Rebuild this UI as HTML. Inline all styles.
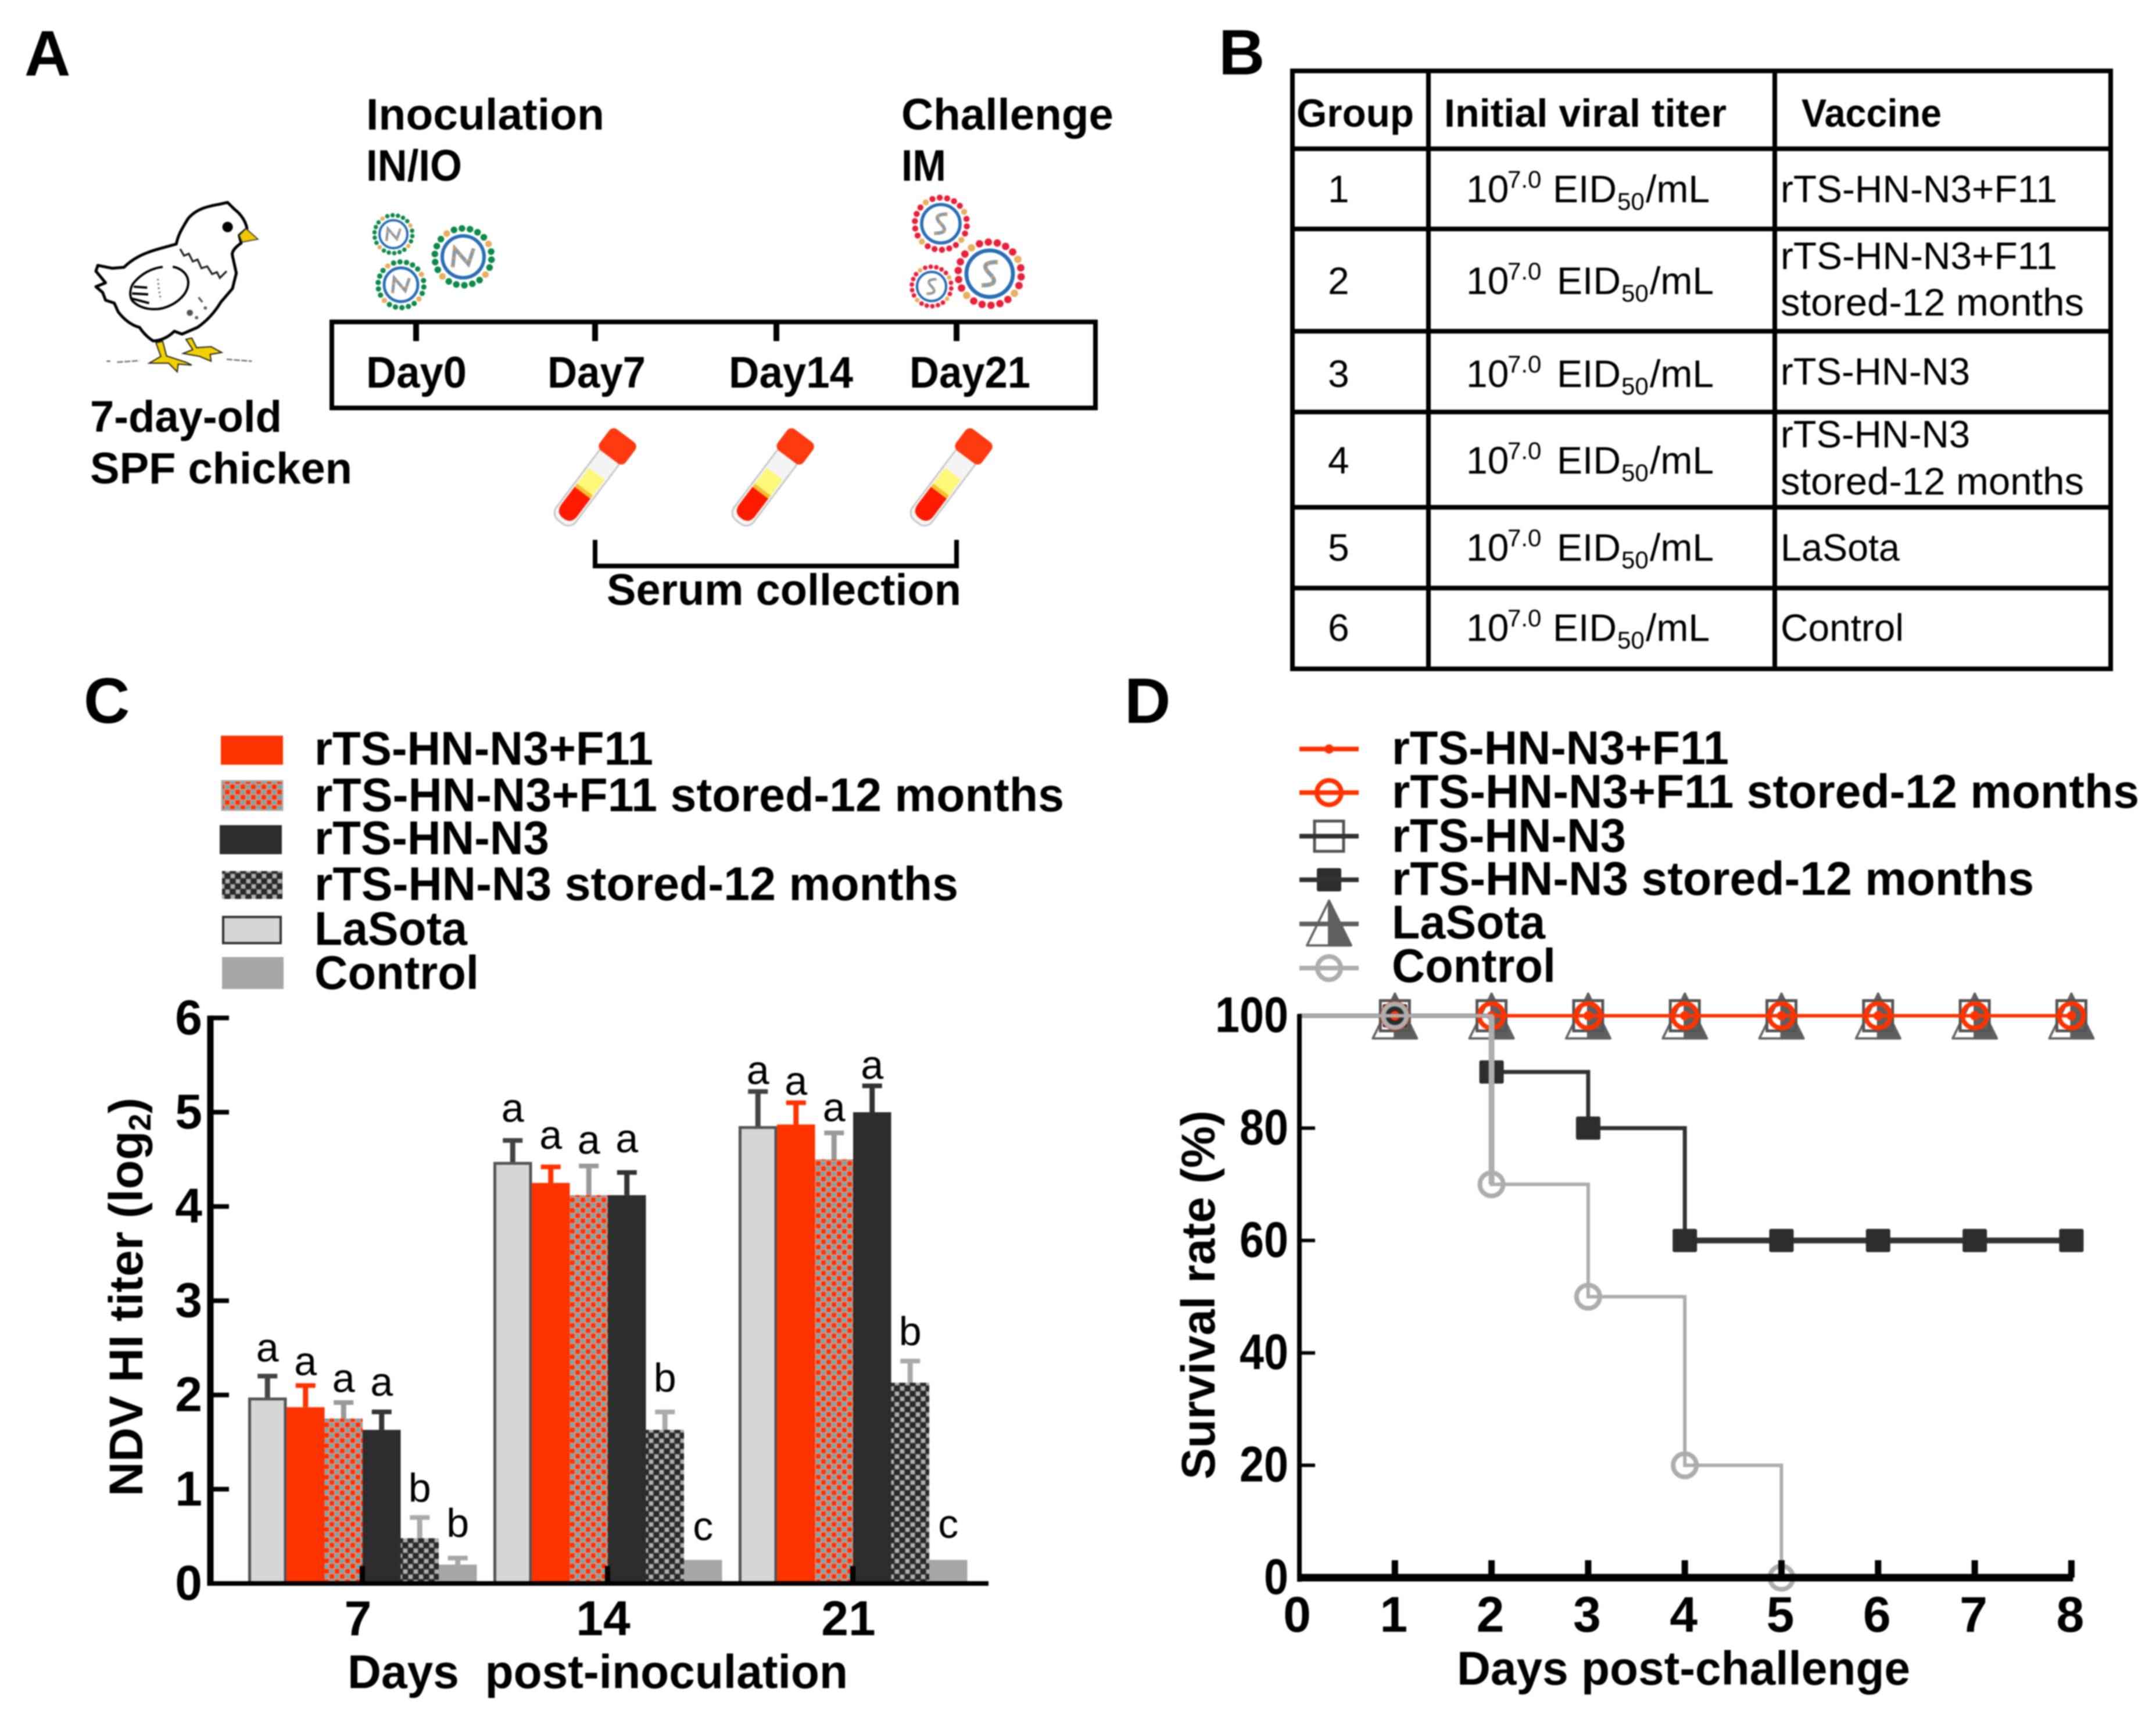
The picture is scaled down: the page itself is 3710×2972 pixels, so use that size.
<!DOCTYPE html>
<html lang="en">
<head>
<meta charset="utf-8">
<title>Vaccine study figure</title>
<style>
html,body{margin:0;padding:0;background:#fff;}
svg{display:block;filter:blur(1px);}
text{font-family:"Liberation Sans",Arial,sans-serif;fill:#000;}
.b{font-weight:bold;}
.lab{font-size:110px;font-weight:bold;}
.a{font-size:76px;font-weight:bold;}
.h{font-size:68px;font-weight:bold;}
.t{font-size:66px;}
.s{font-size:42px;}
.lg{font-size:82px;font-weight:bold;}
</style>
</head>
<body>
<svg id="fig" xmlns="http://www.w3.org/2000/svg" width="3710" height="2972" viewBox="0 0 3710 2972">
<defs>
<pattern id="hatchRed" patternUnits="userSpaceOnUse" width="18" height="18">
<rect width="18" height="18" fill="#f0a090"/>
<rect x="0" y="0" width="8" height="8" fill="#ff3300"/><rect x="9" y="9" width="8" height="8" fill="#ff3300"/>
<rect x="9" y="0" width="8" height="8" fill="#7fa3a8"/><rect x="0" y="9" width="8" height="8" fill="#7fa3a8"/>
</pattern>
<pattern id="hatchDark" patternUnits="userSpaceOnUse" width="18" height="18">
<rect width="18" height="18" fill="#555"/>
<rect x="0" y="0" width="9" height="9" fill="#2a2a2a"/><rect x="9" y="9" width="9" height="9" fill="#2a2a2a"/>
<rect x="10" y="1" width="7" height="7" fill="#b0b0b0"/><rect x="1" y="10" width="7" height="7" fill="#b0b0b0"/>
</pattern>
</defs>
<rect width="3710" height="2972" fill="#fff"/>

<!-- PANEL A -->
<g id="panelA">
<text class="lab" x="42" y="130">A</text>
<text class="a" x="630" y="223" textLength="410" lengthAdjust="spacingAndGlyphs">Inoculation</text>
<text class="a" x="630" y="311" textLength="165" lengthAdjust="spacingAndGlyphs">IN/IO</text>
<text class="a" x="1551" y="223" textLength="365" lengthAdjust="spacingAndGlyphs">Challenge</text>
<text class="a" x="1551" y="311" textLength="77" lengthAdjust="spacingAndGlyphs">IM</text>
<rect x="571" y="554" width="1314" height="148" fill="none" stroke="#000" stroke-width="8"/>
<g stroke="#000" stroke-width="10">
<line x1="716" y1="554" x2="716" y2="587"/><line x1="1024" y1="554" x2="1024" y2="587"/><line x1="1336" y1="554" x2="1336" y2="587"/><line x1="1646" y1="554" x2="1646" y2="587"/>
</g>
<text class="a" x="630" y="667" textLength="173" lengthAdjust="spacingAndGlyphs">Day0</text>
<text class="a" x="942" y="667" textLength="169" lengthAdjust="spacingAndGlyphs">Day7</text>
<text class="a" x="1254" y="667" textLength="214" lengthAdjust="spacingAndGlyphs">Day14</text>
<text class="a" x="1565" y="667" textLength="208" lengthAdjust="spacingAndGlyphs">Day21</text>
<text class="a" x="155" y="743" textLength="330" lengthAdjust="spacingAndGlyphs">7-day-old</text>
<text class="a" x="155" y="832" textLength="451" lengthAdjust="spacingAndGlyphs">SPF chicken</text>
<text class="a" x="1044" y="1041" textLength="610" lengthAdjust="spacingAndGlyphs">Serum collection</text>
<path d="M1024 929V974H1646V929" fill="none" stroke="#000" stroke-width="8"/>

<g transform="translate(140,330) scale(.3333)">
<path d="M490 270C500 220 520 190 550 140C590 90 650 75 710 65L755 55L790 90C830 120 850 160 855 190L815 225L825 265C790 290 775 310 780 330L800 420L780 500L720 570C690 620 650 665 600 700L520 735L480 720C450 750 410 770 370 770C340 750 320 730 300 700C260 690 220 660 190 620L170 575L125 560L110 520L75 490L125 470L75 410L85 380L160 395L220 390C260 350 310 320 400 295Z" fill="#fff" stroke="#000" stroke-width="15" stroke-linejoin="round"/>
<path d="M420 388C360 395 310 425 275 465C250 490 245 540 265 565C300 600 350 610 400 605C470 595 550 540 552 470C552 425 515 395 472 387" fill="none" stroke="#000" stroke-width="12"/>
<path d="M270 490L340 495M262 525L345 530M255 550L350 575" fill="none" stroke="#000" stroke-width="12"/>
<path d="M510 295L530 330L555 320L575 360L600 350L620 395L650 385L675 425L700 415L715 445L750 410" fill="none" stroke="#222" stroke-width="10"/>
<path d="M395 450L400 500L410 560" fill="none" stroke="#666" stroke-width="9" stroke-dasharray="8 14"/>
<circle cx="755" cy="182" r="27" fill="#000"/>
<path d="M815 225L850 190L912 245L830 260Z" fill="#f0c800" stroke="#333" stroke-width="5"/>
<circle cx="560" cy="625" r="16" fill="#555"/><circle cx="595" cy="650" r="9" fill="#666"/><circle cx="640" cy="600" r="9" fill="#666"/><path d="M605 545L625 570" stroke="#555" stroke-width="10"/>
<path d="M385 780L420 772L440 848L540 880L570 895L500 890L495 930L450 885L350 885L410 850Z" fill="#f0d000" stroke="#222" stroke-width="6"/>
<path d="M540 762L570 755L595 805L670 800L725 830L665 840L670 875L610 850L525 835L575 815Z" fill="#f0d000" stroke="#222" stroke-width="6"/>
<path d="M130 875H150M185 880L300 872M750 865L880 875" stroke="#777" stroke-width="8" fill="none" stroke-dasharray="30 8"/>
</g>

<g id="viruses"></g>
<g id="tubes"></g>
</g>

<!-- PANEL B -->
<g id="panelB">
<text class="lab" x="2097" y="128">B</text>
<g stroke="#000" stroke-width="8" fill="none">
<rect x="2224" y="122" width="1408" height="1029"/>
<line x1="2458" y1="122" x2="2458" y2="1151"/><line x1="3054" y1="122" x2="3054" y2="1151"/>
<line x1="2224" y1="256" x2="3632" y2="256"/><line x1="2224" y1="394" x2="3632" y2="394"/><line x1="2224" y1="570" x2="3632" y2="570"/><line x1="2224" y1="709" x2="3632" y2="709"/><line x1="2224" y1="873" x2="3632" y2="873"/><line x1="2224" y1="1012" x2="3632" y2="1012"/>
</g>
<text class="h" x="2231" y="218" textLength="202" lengthAdjust="spacingAndGlyphs">Group</text>
<text class="h" x="2485" y="218" textLength="486" lengthAdjust="spacingAndGlyphs">Initial  viral  titer</text>
<text class="h" x="3100" y="218" textLength="241" lengthAdjust="spacingAndGlyphs">Vaccine</text>

<g>
<text class="t" x="2285" y="348">1</text>
<g transform="translate(-6,0)"><text class="t" x="2529" y="348">10</text><text class="s" x="2600" y="323">7.0</text><text class="t" x="2678" y="348">EID</text><text class="s" x="2789" y="361">50</text><text class="t" x="2838" y="348">/mL</text></g>
<text class="t" x="3064" y="348" textLength="476" lengthAdjust="spacingAndGlyphs">rTS-HN-N3+F11</text>
</g>
<g>
<text class="t" x="2285" y="506">2</text>
<g transform="translate(-6,0)"><text class="t" x="2529" y="506">10</text><text class="s" x="2600" y="481">7.0</text><text class="t" x="2685" y="506">EID</text><text class="s" x="2796" y="519">50</text><text class="t" x="2845" y="506">/mL</text></g>
<text class="t" x="3064" y="463" textLength="476" lengthAdjust="spacingAndGlyphs">rTS-HN-N3+F11</text>
<text class="t" x="3064" y="543" textLength="522" lengthAdjust="spacingAndGlyphs">stored-12  months</text>
</g>
<g>
<text class="t" x="2285" y="666">3</text>
<g transform="translate(-6,0)"><text class="t" x="2529" y="666">10</text><text class="s" x="2600" y="641">7.0</text><text class="t" x="2685" y="666">EID</text><text class="s" x="2796" y="679">50</text><text class="t" x="2845" y="666">/mL</text></g>
<text class="t" x="3064" y="662" textLength="326" lengthAdjust="spacingAndGlyphs">rTS-HN-N3</text>
</g>
<g>
<text class="t" x="2285" y="815">4</text>
<g transform="translate(-6,0)"><text class="t" x="2529" y="815">10</text><text class="s" x="2600" y="790">7.0</text><text class="t" x="2685" y="815">EID</text><text class="s" x="2796" y="828">50</text><text class="t" x="2845" y="815">/mL</text></g>
<text class="t" x="3064" y="770" textLength="326" lengthAdjust="spacingAndGlyphs">rTS-HN-N3</text>
<text class="t" x="3064" y="851" textLength="522" lengthAdjust="spacingAndGlyphs">stored-12  months</text>
</g>
<g>
<text class="t" x="2285" y="965">5</text>
<g transform="translate(-6,0)"><text class="t" x="2529" y="965">10</text><text class="s" x="2600" y="940">7.0</text><text class="t" x="2685" y="965">EID</text><text class="s" x="2796" y="978">50</text><text class="t" x="2845" y="965">/mL</text></g>
<text class="t" x="3064" y="965" textLength="205" lengthAdjust="spacingAndGlyphs">LaSota</text>
</g>
<g>
<text class="t" x="2285" y="1103">6</text>
<g transform="translate(-6,0)"><text class="t" x="2529" y="1103">10</text><text class="s" x="2600" y="1078">7.0</text><text class="t" x="2678" y="1103">EID</text><text class="s" x="2789" y="1116">50</text><text class="t" x="2838" y="1103">/mL</text></g>
<text class="t" x="3064" y="1103" textLength="212" lengthAdjust="spacingAndGlyphs">Control</text>
</g>
</g>

<!-- PANEL C -->
<g id="panelC">
<text class="lab" x="144" y="1244">C</text>
<g>
<rect x="380" y="1266" width="107" height="50" fill="#ff3300"/>
<text class="lg" x="541" y="1316" textLength="583" lengthAdjust="spacingAndGlyphs">rTS-HN-N3+F11</text>
<rect x="382" y="1344" width="104" height="50" fill="url(#hatchRed)" stroke="#aaa" stroke-width="3"/>
<text class="lg" x="541" y="1396" textLength="1290" lengthAdjust="spacingAndGlyphs">rTS-HN-N3+F11 stored-12 months</text>
<rect x="378" y="1420" width="107" height="50" fill="#2d2d2d"/>
<text class="lg" x="541" y="1470" textLength="404" lengthAdjust="spacingAndGlyphs">rTS-HN-N3</text>
<rect x="382" y="1499" width="104" height="48" fill="url(#hatchDark)"/>
<text class="lg" x="541" y="1549" textLength="1108" lengthAdjust="spacingAndGlyphs">rTS-HN-N3 stored-12 months</text>
<rect x="384" y="1578" width="99" height="45" fill="#d6d6d6" stroke="#333" stroke-width="4"/>
<text class="lg" x="541" y="1626" textLength="263" lengthAdjust="spacingAndGlyphs">LaSota</text>
<rect x="382" y="1647" width="106" height="55" fill="#a6a6a9"/>
<text class="lg" x="541" y="1702" textLength="283" lengthAdjust="spacingAndGlyphs">Control</text>
</g>
<g id="barPlot"></g>
<text class="lg" font-size="82" transform="translate(245,2575) rotate(-90)">NDV HI titer (log<tspan dy="14" font-size="54">2</tspan><tspan dy="-14">)</tspan></text>
<text class="lg" x="598" y="2905" textLength="861" lengthAdjust="spacingAndGlyphs" xml:space="preserve">Days  post-inoculation</text>
</g>

<!-- PANEL D -->
<g id="panelD">
<text class="lab" x="1935" y="1244">D</text>
<g id="survivalLegend">
<text class="lg" x="2395" y="1315" textLength="580" lengthAdjust="spacingAndGlyphs">rTS-HN-N3+F11</text>
<text class="lg" x="2395" y="1390" textLength="1286" lengthAdjust="spacingAndGlyphs">rTS-HN-N3+F11 stored-12 months</text>
<text class="lg" x="2395" y="1466" textLength="403" lengthAdjust="spacingAndGlyphs">rTS-HN-N3</text>
<text class="lg" x="2395" y="1540" textLength="1105" lengthAdjust="spacingAndGlyphs">rTS-HN-N3 stored-12 months</text>
<text class="lg" x="2395" y="1615" textLength="264" lengthAdjust="spacingAndGlyphs">LaSota</text>
<text class="lg" x="2395" y="1690" textLength="282" lengthAdjust="spacingAndGlyphs">Control</text>
</g>
<g id="survivalPlot"></g>
<text class="lg" transform="translate(2090,2546) rotate(-90)" textLength="635" lengthAdjust="spacingAndGlyphs">Survival rate (%)</text>
<text class="lg" x="2507" y="2899" textLength="780" lengthAdjust="spacingAndGlyphs">Days post-challenge</text>
</g>
</svg>

<script>
// ---- Panel C data ----
const titerCategories = ['7', '14', '21'];
const titerTicks = [0, 1, 2, 3, 4, 5, 6];
const titerSeriesKeys = ['lasota', 'f11', 'f11-stored', 'n3', 'n3-stored', 'control'];
const lasotaTiter = [1.97, 4.47, 4.85];
const f11Titer = [1.87, 4.25, 4.87];
const f11StoredTiter = [1.75, 4.12, 4.5];
const n3Titer = [1.63, 4.12, 5.0];
const n3StoredTiter = [0.48, 1.63, 2.13];
const controlTiter = [0.2, 0.25, 0.25];
const lasotaError = [0.23, 0.23, 0.37];
const f11Error = [0.23, 0.17, 0.23];
const f11StoredError = [0.17, 0.31, 0.28];
const n3Error = [0.19, 0.24, 0.28];
const n3StoredError = [0.22, 0.19, 0.23];
const controlError = [0.07, 0, 0];
const lasotaLetters = ['a', 'a', 'a'];
const f11Letters = ['a', 'a', 'a'];
const f11StoredLetters = ['a', 'a', 'a'];
const n3Letters = ['a', 'a', 'a'];
const n3StoredLetters = ['b', 'b', 'b'];
const controlLetters = ['b', 'c', 'c'];

// ---- Panel D data ----
const survivalXTicks = [0, 1, 2, 3, 4, 5, 6, 7, 8];
const survivalYTicks = [0, 20, 40, 60, 80, 100];
const lasotaSurvival = [100, 100, 100, 100, 100, 100, 100, 100, 100];
const n3Survival = [100, 100, 100, 100, 100, 100, 100, 100, 100];
const n3StoredSurvival = [100, 100, 90, 80, 60, 60, 60, 60, 60];
const f11Survival = [100, 100, 100, 100, 100, 100, 100, 100, 100];
const f11StoredSurvival = [100, 100, 100, 100, 100, 100, 100, 100, 100];
const controlSurvival = [100, 100, 70, 50, 20, 0];

const NS = 'http://www.w3.org/2000/svg';
function mk(tag, attrs, parent, text) {
  const e = document.createElementNS(NS, tag);
  for (const k in attrs) e.setAttribute(k, attrs[k]);
  if (text !== undefined) e.textContent = text;
  parent.appendChild(e);
  return e;
}

// ---- Panel C ----
(function () {
  const plot = document.getElementById('barPlot');
  const xGroup = i => 624 + 422 * i;
  const yVal = v => 2725 - 162.2 * v;
  const barW = 65.5;
  const values = [lasotaTiter, f11Titer, f11StoredTiter, n3Titer, n3StoredTiter, controlTiter];
  const errors = [lasotaError, f11Error, f11StoredError, n3Error, n3StoredError, controlError];
  const letters = [lasotaLetters, f11Letters, f11StoredLetters, n3Letters, n3StoredLetters, controlLetters];
  const letterGaps = [[25, 18, 18, 28, 27, 36], [32, 31, 21, 35, 35, 34], [13, 14, 20, 12, 27, 38]];
  const fills = ['#d6d6d6', '#ff3300', 'url(#hatchRed)', '#2d2d2d', 'url(#hatchDark)', '#a6a6a9'];
  const errColors = ['#444', '#ff3300', '#999', '#333', '#aaa', '#a6a6a9'];

  titerCategories.forEach((cat, i) => {
    titerSeriesKeys.forEach((key, j) => {
      const v = values[j][i];
      const x = xGroup(i) + (j - 3) * barW;
      const top = yVal(v);
      const errTop = yVal(v + errors[j][i]);
      const cx = x + barW / 2;
      if (errors[j][i] > 0) {
        const stem = mk('line', { x1: cx, x2: cx, y1: errTop, y2: top, stroke: errColors[j], 'stroke-width': 9 }, plot);
        
        
        const cap = mk('line', { x1: cx - 17, x2: cx + 17, y1: errTop, y2: errTop, stroke: errColors[j], 'stroke-width': 8 }, plot);
        
        
      }
      const inset = j === 0 ? 2 : 0;
      const bar = mk('rect', {
        x: x + inset, y: top + inset, width: barW - inset * 2, height: Math.max(0, 2725 - top - inset),
        fill: fills[j], stroke: j === 0 ? '#555' : 'none', 'stroke-width': j === 0 ? 5 : 0
      }, plot);
      
      
      const letter = mk('text', { x: cx, y: errTop - letterGaps[i][j], 'font-size': 70, 'text-anchor': 'middle' }, plot, letters[j][i]);
      
      
    });
    const tick = mk('rect', { x: xGroup(i) - 5, y: 2695, width: 9, height: 30, fill: '#000' }, plot);
    
    
    const tickLabel = mk('text', { x: xGroup(i) - 8, y: 2814, 'font-size': 84, 'font-weight': 'bold', 'text-anchor': 'middle' }, plot, cat);
    
    
  });

  const yAxis = mk('line', { x1: 362, x2: 362, y1: yVal(6) - 4, y2: 2729, stroke: '#000', 'stroke-width': 11 }, plot);
  
  
  const xAxis = mk('line', { x1: 357, x2: 1701, y1: 2725, y2: 2725, stroke: '#000', 'stroke-width': 8 }, plot);
  
  
  titerTicks.forEach(t => {
    const tick = mk('line', { x1: 362, x2: 394, y1: yVal(t), y2: yVal(t), stroke: '#000', 'stroke-width': 8 }, plot);
    
    
    const label = mk('text', { x: 348, y: yVal(t) + 28, 'font-size': 84, 'font-weight': 'bold', 'text-anchor': 'end' }, plot, String(t));
    
    
  });
})();

// ---- Panel D ----
(function () {
  const plot = document.getElementById('survivalPlot');
  const legend = document.getElementById('survivalLegend');
  const xDay = d => 2234 + 166.3 * d;
  const yPct = v => 2715 - 9.67 * v;

  function marker(kind, parent, x, y) {
    if (kind === 'triangle') {
      mk('path', { d: `M${x} ${y - 38}L${x - 38} ${y + 39}H${x}Z`, fill: '#fff', stroke: '#666', 'stroke-width': 4, 'stroke-linejoin': 'round' }, parent);
      mk('path', { d: `M${x} ${y - 38}L${x + 38} ${y + 39}H${x}Z`, fill: '#5f5f5f', stroke: '#5f5f5f', 'stroke-width': 4, 'stroke-linejoin': 'round' }, parent);
    } else if (kind === 'open-square') {
      mk('rect', { x: x - 25, y: y - 26, width: 50, height: 52, fill: 'none', stroke: '#555', 'stroke-width': 5 }, parent);
    } else if (kind === 'filled-square') {
      mk('rect', { x: x - 21, y: y - 20, width: 42, height: 40, rx: 3, fill: '#2d2d2d' }, parent);
    } else if (kind === 'dot') {
      mk('circle', { cx: x, cy: y, r: 8, fill: '#ff3300' }, parent);
    } else if (kind === 'red-ring') {
      mk('circle', { cx: x, cy: y, r: 21, fill: 'none', stroke: '#ff3300', 'stroke-width': 8 }, parent);
    } else if (kind === 'grey-ring') {
      mk('circle', { cx: x, cy: y, r: 20, fill: 'none', stroke: '#adadad', 'stroke-width': 8 }, parent);
    }
  }

  const seriesKeys = ['lasota', 'n3', 'n3-stored', 'f11', 'f11-stored', 'control'];
  const seriesValues = [lasotaSurvival, n3Survival, n3StoredSurvival, f11Survival, f11StoredSurvival, controlSurvival];
  const seriesColors = ['#5f5f5f', '#333', '#333', '#ff3300', '#ff3300', '#adadad'];
  const seriesMarkers = ['triangle', 'open-square', 'filled-square', 'dot', 'red-ring', 'grey-ring'];

  seriesKeys.forEach((key, s) => {
    const vals = seriesValues[s];
    let d = `M${xDay(0)} ${yPct(vals[0])}`;
    for (let i = 1; i < vals.length; i++) d += `H${xDay(i)}V${yPct(vals[i])}`;
    const line = mk('path', { d: d, fill: 'none', stroke: seriesColors[s], 'stroke-width': s === 2 ? 7 : 6 }, plot);
    
    
    if (key === 'n3-stored') {
      for (let i = 2; i < vals.length; i++) {
        if (vals[i] === vals[i - 1]) {
          const plateau = mk('line', { x1: xDay(i - 1), x2: xDay(i), y1: yPct(vals[i]), y2: yPct(vals[i]), stroke: seriesColors[s], 'stroke-width': 10 }, plot);
          
          
        }
      }
    }
    if (key === 'control') {
      const drop = mk('line', { x1: xDay(2), x2: xDay(2), y1: yPct(vals[1]), y2: yPct(vals[2]), stroke: seriesColors[s], 'stroke-width': 10 }, plot);
      
      
    }
    for (let i = 1; i < vals.length; i++) {
      const g = mk('g', {}, plot);
      
      
      marker(seriesMarkers[s], g, xDay(i), yPct(vals[i]));
    }
  });

  const yAxis = mk('line', { x1: 2236, x2: 2236, y1: yPct(100) - 3, y2: 2722, stroke: '#000', 'stroke-width': 8 }, plot);
  
  
  const xAxis = mk('line', { x1: 2232, x2: xDay(8) + 3, y1: 2715, y2: 2715, stroke: '#000', 'stroke-width': 13 }, plot);
  
  
  survivalXTicks.forEach(t => {
    if (t > 0) {
      const tick = mk('line', { x1: xDay(t), x2: xDay(t), y1: 2685, y2: 2715, stroke: '#000', 'stroke-width': 11 }, plot);
      
      
    }
    const label = mk('text', { x: xDay(t) - 2, y: 2808, 'font-size': 86, 'font-weight': 'bold', 'text-anchor': 'middle' }, plot, String(t));
    
    
  });
  survivalYTicks.forEach(t => {
    if (t > 0 && t < 100) {
      const tick = mk('line', { x1: 2236, x2: 2263, y1: yPct(t), y2: yPct(t), stroke: '#000', 'stroke-width': 6 }, plot);
      
      
    }
    const tickText = String(t);
    const label = mk('text', { x: 2217, y: yPct(t) + 28, 'font-size': 86, 'font-weight': 'bold', 'text-anchor': 'end', textLength: tickText.length * 42, lengthAdjust: 'spacingAndGlyphs' }, plot, tickText);
    
    
  });

  // Legend handles
  const handleRows = [1289, 1364, 1439, 1514, 1590, 1666];
  const handleKeys = ['f11', 'f11-stored', 'n3', 'n3-stored', 'lasota', 'control'];
  const handleColors = ['#ff3300', '#ff3300', '#333', '#333', '#5f5f5f', '#adadad'];
  const handleMarkers = ['dot', 'red-ring', 'open-square', 'filled-square', 'triangle', 'grey-ring'];
  handleRows.forEach((y, i) => {
    const g = mk('g', {}, legend);
    
    
    marker(handleMarkers[i], g, 2287, handleMarkers[i] === 'triangle' ? y - 2 : y);
    mk('line', { x1: 2236, x2: 2338, y1: y, y2: y, stroke: handleColors[i], 'stroke-width': 8 }, g);
  });
})();

// ---- Panel A illustrations ----
(function () {
  const vg = document.getElementById('viruses');
  function virus(cx, cy, r, dotColor, glyph) {
    const g = mk('g', {}, vg);
    
    
    const dr = r * 1.36;
    const n = 22;
    for (let i = 0; i < n; i++) {
      const a = i / n * Math.PI * 2 + 0.1;
      mk('circle', { cx: cx + dr * Math.cos(a), cy: cy + dr * Math.sin(a), r: r * 0.16, fill: i % 6 === 2 ? '#e8b060' : dotColor }, g);
    }
    mk('circle', { cx: cx, cy: cy, r: r, fill: '#fff', stroke: '#2a6fb5', 'stroke-width': r * 0.17 }, g);
    const u = r * 0.5;
    const d = glyph === 'N'
      ? `M${cx - u} ${cy + u}L${cx - u * 0.8} ${cy - u * 0.8}L${cx + u * 0.5} ${cy + u * 0.7}L${cx + u} ${cy - u * 0.8}`
      : `M${cx + u * 0.7} ${cy - u}Q${cx - u} ${cy - u} ${cx} ${cy}T${cx - u * 0.7} ${cy + u}`;
    mk('path', { d: d, fill: 'none', stroke: '#8a9aa6', 'stroke-width': r * 0.18 }, g);
    mk('path', { d: d, fill: 'none', stroke: '#e8a050', 'stroke-width': r * 0.12, 'stroke-dasharray': '3 12' }, g);
  }
  virus(677, 403, 24, '#0e8a4a', 'N');
  virus(690, 490, 29, '#0e8a4a', 'N');
  virus(797, 442, 36, '#0e8a4a', 'N');
  virus(1619, 385, 33, '#e8213a', 'S');
  virus(1603, 493, 25, '#e8213a', 'S');
  virus(1703, 471, 40, '#e8213a', 'S');

  const tg = document.getElementById('tubes');
  [1062, 1368, 1675].forEach(cx => {
    const g = mk('g', { transform: `translate(${cx},769) rotate(37)` }, tg);
    
    
    mk('rect', { x: -21, y: 10, width: 42, height: 152, rx: 16, fill: '#f4f4f4', stroke: '#c8c8c8', 'stroke-width': 3 }, g);
    mk('path', { d: 'M-17 98H17V136Q17 154 0 154Q-17 154 -17 136Z', fill: '#ff1a00' }, g);
    mk('rect', { x: -17, y: 58, width: 34, height: 40, fill: '#fdf77a' }, g);
    mk('rect', { x: -17, y: 92, width: 34, height: 7, fill: '#f5c030' }, g);
    mk('rect', { x: -28, y: -24, width: 56, height: 46, rx: 10, fill: '#ff3a10' }, g);
  });
})();
</script>
</body>
</html>
